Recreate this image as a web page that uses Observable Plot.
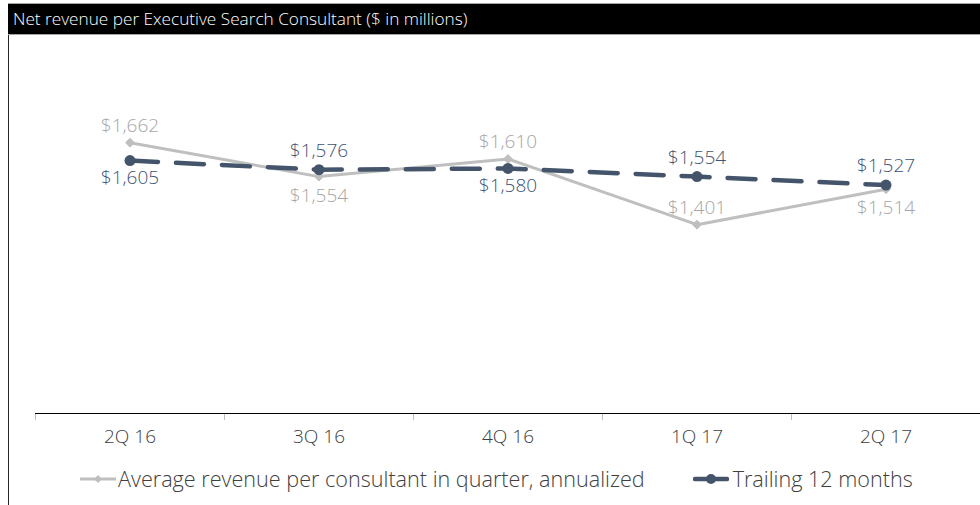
<!DOCTYPE html>
<html>
<head>
<meta charset="utf-8">
<script src="https://cdn.jsdelivr.net/npm/d3@7"></script>
<script src="https://cdn.jsdelivr.net/npm/@observablehq/plot@0.6"></script>
<style>
  html, body { margin: 0; padding: 0; background: #fff; }
  body { width: 980px; height: 505px; position: relative; overflow: hidden; font-family: "Open Sans", sans-serif; font-weight: 300; }
  #title { position: absolute; left: 8px; top: 3px; width: 967px; height: 30px; background: #000;
           border-top: 1px solid #a6a6a6; border-bottom: 1px solid #a6a6a6; color: #fff;
           font-size: 17.2px; font-weight: 300; line-height: 30px; padding-left: 5px; box-sizing: content-box; }
  #leftborder { position: absolute; left: 8px; top: 35px; width: 1px; height: 470px; background: #262626; }
  #chart { position: absolute; left: 0; top: 35px; }
  #legend { position: absolute; left: 80px; top: 464px; font-size: 21.6px; font-weight: 300; color: #404040; display: flex; align-items: center; white-space: nowrap; }
  #legend .item { display: flex; align-items: center; }
  #legend svg { display: block; }
</style>
</head>
<body>
<div id="title">Net revenue per Executive Search Consultant ($ in millions)</div>
<div id="leftborder"></div>
<div id="chart"></div>
<div id="legend"></div>
<script>
const categories = ["2Q 16", "3Q 16", "4Q 16", "1Q 17", "2Q 17"];
const quarterAvg = [1662, 1554, 1610, 1401, 1514];
const trailing12 = [1605, 1576, 1580, 1554, 1527];
const quarterLabelAbove = [true, false, true, true, false];
const trailingLabelAbove = [false, true, false, true, true];
const seriesNames = ["Average revenue per consultant in quarter, annualized", "Trailing 12 months"];

const grayC = "#bfbfbf", grayText = "#a6a6a6", darkC = "#44546a", darkText = "#3f5373";

const rows = categories.map((c, i) => ({i, c, q: quarterAvg[i], t: trailing12[i], qa: quarterLabelAbove[i], ta: trailingLabelAbove[i]}));
const bounds = d3.range(categories.length + 1).map(i => i - 0.5);
const fmt = v => "$" + d3.format(",")(v);

const chart = Plot.plot({
  width: 980,
  height: 470,
  marginLeft: 35,
  marginRight: 0,
  marginTop: 1,
  marginBottom: 92,
  style: {fontFamily: "'Open Sans', sans-serif", fontWeight: 300, background: "transparent", overflow: "visible"},
  x: {type: "linear", domain: [-0.5, categories.length - 0.5], label: null},
  y: {domain: [800, 2000], axis: null, label: null},
  marks: [
    Plot.axisX({ticks: bounds, tickSize: 7, stroke: grayC, tickFormat: () => "", label: null}),
    Plot.axisX({ticks: d3.range(categories.length), tickSize: 0, tickPadding: 16, tickFormat: i => categories[i], fontSize: 19, fontWeight: 300, fill: "#404040", label: null}),
    Plot.ruleY([800], {stroke: "#000", strokeWidth: 1}),
    Plot.line(rows, {x: "i", y: "q", stroke: grayC, strokeWidth: 3}),
    Plot.dot(rows, {x: "i", y: "q", symbol: "diamond2", r: 4, fill: grayC, stroke: grayC, strokeWidth: 1}),
    Plot.line(rows, {x: "i", y: "t", stroke: darkC, strokeWidth: 4.5, strokeDasharray: "28,18", strokeLinecap: "round"}),
    Plot.dot(rows, {x: "i", y: "t", r: 5.5, fill: darkC}),
    Plot.text(rows.filter(d => d.qa), {x: "i", y: "q", text: d => fmt(d.q), dy: -17, fill: grayText, fontSize: 19, fontWeight: 300}),
    Plot.text(rows.filter(d => !d.qa), {x: "i", y: "q", text: d => fmt(d.q), dy: 19, fill: grayText, fontSize: 19, fontWeight: 300}),
    Plot.text(rows.filter(d => d.ta), {x: "i", y: "t", text: d => fmt(d.t), dy: -19, fill: darkText, fontSize: 19, fontWeight: 300}),
    Plot.text(rows.filter(d => !d.ta), {x: "i", y: "t", text: d => fmt(d.t), dy: 17, fill: darkText, fontSize: 19, fontWeight: 300})
  ]
});
document.getElementById("chart").appendChild(chart);

// Legend
const legend = d3.select("#legend");
const item1 = legend.append("div").attr("class", "item");
const s1 = item1.append("svg").attr("width", 36).attr("height", 12);
s1.append("line").attr("x1", 0).attr("x2", 36).attr("y1", 6).attr("y2", 6).attr("stroke", grayC).attr("stroke-width", 3);
s1.append("path").attr("d", "M18,2 L22,6 L18,10 L14,6 Z").attr("fill", grayC);
item1.append("span").style("margin-left", "2px").text(seriesNames[0]);
const item2 = legend.append("div").attr("class", "item").style("margin-left", "48px");
const s2 = item2.append("svg").attr("width", 36).attr("height", 12);
s2.append("line").attr("x1", 2).attr("x2", 34).attr("y1", 6).attr("y2", 6).attr("stroke", darkC).attr("stroke-width", 4.5).attr("stroke-linecap", "round");
s2.append("circle").attr("cx", 18).attr("cy", 6).attr("r", 5).attr("fill", darkC);
item2.append("span").style("margin-left", "4px").text(seriesNames[1]);
</script>
</body>
</html>
